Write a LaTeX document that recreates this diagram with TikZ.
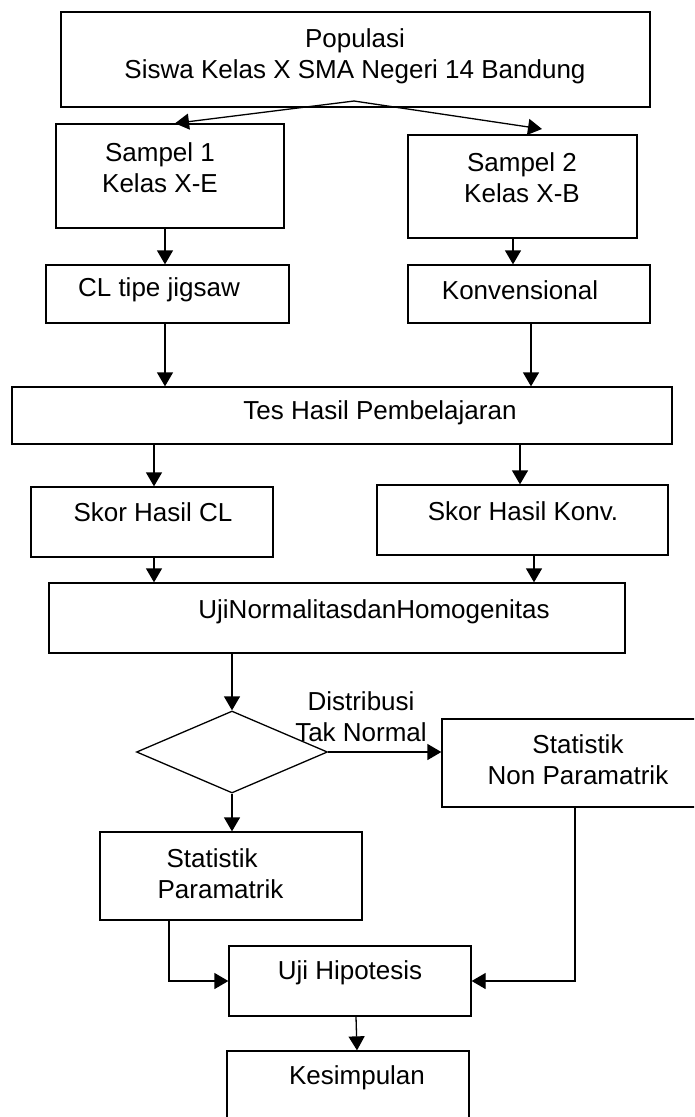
\documentclass[tikz,border=0pt]{standalone}
\usepackage{fontspec}
\setmainfont{Liberation Sans}
\usetikzlibrary{arrows.meta,shapes.geometric,calc}
\begin{document}
\begin{tikzpicture}[x=1pt,y=-1pt,
  box/.style={draw, line width=1.3pt, rectangle, inner sep=0pt},
  dbox/.style={draw, line width=1.3pt, diamond, inner sep=0pt},
  txt/.style={font=\fontsize{26}{31}\selectfont, align=center, inner sep=0pt},
  arr/.style={line width=1.3pt, -{Triangle[length=14pt,width=16pt]}},
  ln/.style={line width=1.3pt}]
\useasboundingbox (0,0) rectangle (694,1117);
\clip (0,0) rectangle (694,1117);
% boxes
\node[box, minimum width=589pt, minimum height=95pt] (pop) at (355.5,59.5) {};
\node[box, minimum width=228pt, minimum height=104pt] (s1) at (170,176) {};
\node[box, minimum width=229pt, minimum height=103pt] (s2) at (522.5,186.5) {};
\node[box, minimum width=243pt, minimum height=58pt] (cl) at (167.5,294) {};
\node[box, minimum width=242pt, minimum height=58pt] (konv) at (529,294) {};
\node[box, minimum width=660pt, minimum height=57pt] (tes) at (342,415.5) {};
\node[box, minimum width=242pt, minimum height=70pt] (skcl) at (152,522) {};
\node[box, minimum width=291pt, minimum height=70pt] (skkv) at (522.5,520) {};
\node[box, minimum width=576pt, minimum height=70pt] (uji) at (337,618) {};
\node[dbox, minimum width=191pt, minimum height=82pt] (dia) at (232,752) {};
\node[box, minimum width=278pt, minimum height=88pt] (np) at (581,763) {};
\node[box, minimum width=262pt, minimum height=88pt] (sp) at (231,876) {};
\node[box, minimum width=242pt, minimum height=70pt] (hip) at (350,981) {};
\node[box, minimum width=242pt, minimum height=79pt] (kes) at (348,1090.5) {};
% texts
\node[txt] (popT) at (355,56) {Populasi\\Siswa Kelas X SMA Negeri 14 Bandung};
\node[txt] (s1T) at (160,167.5) {Sampel 1\\Kelas X-E};
\node[txt] (s2T) at (522,178) {Sampel 2\\Kelas X-B};
\node[txt] (clT) at (159,290) {CL tipe jigsaw};
\node[txt] (konvT) at (520,290) {Konvensional};
\node[txt] (tesT) at (380,413) {Tes Hasil Pembelajaran};
\node[txt] (skclT) at (153,512) {Skor Hasil CL};
\node[txt] (skkvT) at (523,511) {Skor Hasil Konv.};
\node[txt] (ujiT) at (374,612) {UjiNormalitasdanHomogenitas};
\node[txt] (distT) at (361,717) {Distribusi\\Tak Normal};
\node[txt] (npT) at (578,759.5) {Statistik\\Non Paramatrik};
\node[txt, align=left] (spT) at (220.5,874) {\hspace*{9pt}Statistik\\Paramatrik};
\node[txt] (hipT) at (350,973) {Uji Hipotesis};
\node[txt] (kesT) at (357,1078) {Kesimpulan};
% connectors
\coordinate (fork) at (354,101);
\draw[arr] (fork) -- (s1.north -| 175,0);
\draw[arr] (fork) -- (542,129);
\draw[arr] (165,0 |- s1.south) -- (165,0 |- cl.north);
\draw[arr] (513,0 |- s2.south) -- (513,0 |- konv.north);
\draw[arr] (165,0 |- cl.south) -- (165,0 |- tes.north);
\draw[arr] (531,0 |- konv.south) -- (531,0 |- tes.north);
\draw[arr] (154,0 |- tes.south) -- (154,0 |- skcl.north);
\draw[arr] (520,0 |- tes.south) -- (520,0 |- skkv.north);
\draw[arr] (154,0 |- skcl.south) -- (154,0 |- uji.north);
\draw[arr] (534,0 |- skkv.south) -- (534,0 |- uji.north);
\draw[arr] (232,0 |- uji.south) -- (dia.north);
\draw[arr] (dia.east) -- (dia.east -| np.west);
\draw[arr] (dia.south) -- (dia.south |- sp.north);
\draw[arr] (169,0 |- sp.south) |- (hip.west);
\draw[arr] (575,0 |- np.south) |- (hip.east);
\draw[arr] (356,0 |- hip.south) -- (357,0 |- kes.north);
\end{tikzpicture}
\end{document}
